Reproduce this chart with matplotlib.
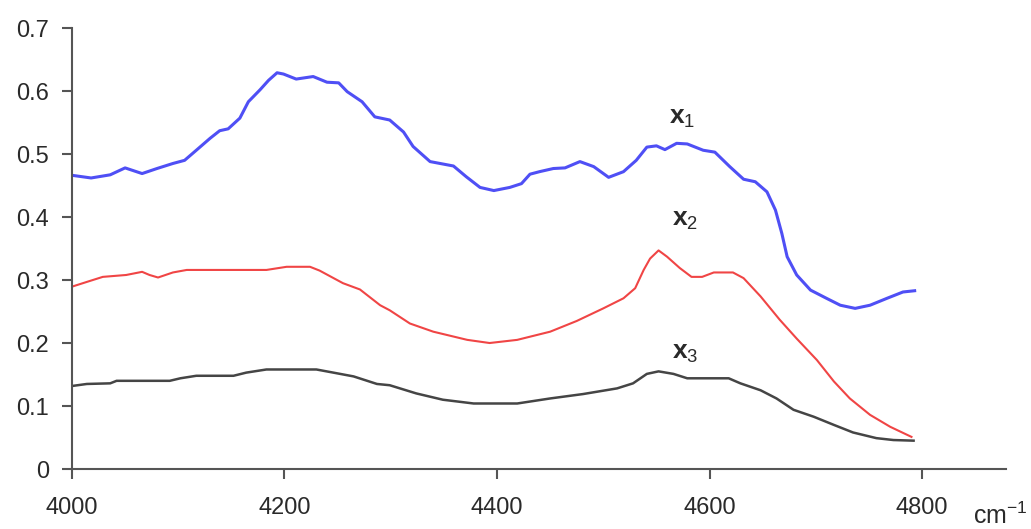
import matplotlib.pyplot as plt

plt.rcParams['font.family'] = ['Liberation Sans', 'DejaVu Sans']
plt.rcParams['mathtext.fontset'] = 'custom'
plt.rcParams['mathtext.rm'] = 'Liberation Sans'
plt.rcParams['mathtext.bf'] = 'Liberation Sans:bold'

# wavenumber (cm-1) and absorbance
x1_wn = [4001, 4018, 4036, 4050, 4066, 4080, 4095, 4106, 4117, 4130, 4139, 4147,
         4158, 4166, 4177, 4185, 4193, 4199, 4211, 4227, 4240, 4251, 4259, 4273,
         4285, 4299, 4312, 4321, 4337, 4359, 4371, 4384, 4397, 4412, 4423, 4431,
         4440, 4453, 4464, 4478, 4491, 4505, 4519, 4531, 4541, 4550, 4558, 4569,
         4579, 4594, 4605, 4619, 4632, 4643, 4654, 4662, 4668, 4673, 4682, 4695,
         4710, 4723, 4737, 4751, 4767, 4782, 4793]
x1_abs = [0.466, 0.462, 0.467, 0.478, 0.469, 0.477, 0.485, 0.490, 0.506, 0.525, 0.537, 0.540,
          0.557, 0.583, 0.602, 0.617, 0.629, 0.627, 0.619, 0.623, 0.614, 0.613, 0.599, 0.583,
          0.559, 0.554, 0.535, 0.512, 0.488, 0.481, 0.464, 0.447, 0.442, 0.447, 0.453, 0.468,
          0.472, 0.477, 0.478, 0.488, 0.480, 0.463, 0.472, 0.490, 0.511, 0.513, 0.507, 0.517,
          0.516, 0.506, 0.503, 0.480, 0.460, 0.456, 0.440, 0.411, 0.374, 0.337, 0.308, 0.284,
          0.271, 0.260, 0.255, 0.260, 0.271, 0.281, 0.283]

x2_wn = [4001, 4014, 4029, 4051, 4066, 4073, 4081, 4095, 4108, 4183, 4202, 4224,
         4233, 4255, 4271, 4290, 4299, 4318, 4340, 4372, 4393, 4419, 4450, 4475,
         4500, 4519, 4530, 4538, 4544, 4552, 4560, 4572, 4583, 4593, 4604, 4622,
         4632, 4648, 4666, 4682, 4701, 4717, 4732, 4751, 4770, 4790]
x2_abs = [0.290, 0.297, 0.305, 0.308, 0.313, 0.308, 0.304, 0.312, 0.316, 0.316, 0.321, 0.321,
          0.315, 0.295, 0.285, 0.260, 0.252, 0.231, 0.218, 0.205, 0.200, 0.205, 0.218, 0.235,
          0.255, 0.271, 0.287, 0.316, 0.334, 0.347, 0.337, 0.319, 0.305, 0.305, 0.312, 0.312,
          0.303, 0.274, 0.237, 0.207, 0.173, 0.139, 0.112, 0.086, 0.067, 0.051]

x3_wn = [4001, 4014, 4036, 4042, 4092, 4102, 4117, 4152, 4164, 4183, 4230, 4246,
         4265, 4287, 4299, 4324, 4349, 4378, 4419, 4450, 4481, 4513, 4528, 4541,
         4552, 4566, 4579, 4618, 4629, 4648, 4663, 4679, 4698, 4717, 4735, 4757,
         4773, 4792]
x3_abs = [0.132, 0.135, 0.136, 0.140, 0.140, 0.144, 0.148, 0.148, 0.153, 0.158, 0.158, 0.153,
          0.147, 0.135, 0.133, 0.120, 0.110, 0.104, 0.104, 0.112, 0.119, 0.128, 0.136, 0.151,
          0.155, 0.151, 0.144, 0.144, 0.136, 0.125, 0.112, 0.094, 0.083, 0.070, 0.058, 0.049,
          0.046, 0.045]

xticks = [4000, 4200, 4400, 4600, 4800]
yticks = [0, 0.1, 0.2, 0.3, 0.4, 0.5, 0.6, 0.7]
ytick_labels = ['0', '0.1', '0.2', '0.3', '0.4', '0.5', '0.6', '0.7']

fig = plt.figure(figsize=(10.31, 5.29), dpi=100)
ax = fig.add_axes([0.0698, 0.1134, 0.906, 0.8336])

ax.plot(x1_wn, x1_abs, color='#4f4ff5', lw=2.2)
ax.plot(x2_wn, x2_abs, color='#f04545', lw=1.5)
ax.plot(x3_wn, x3_abs, color='#454545', lw=1.8)

ax.text(4574, 0.557, r'$\mathbf{x}_1$', fontsize=19, ha='center', va='center', color='#2a2a2a')
ax.text(4577, 0.395, r'$\mathbf{x}_2$', fontsize=19, ha='center', va='center', color='#2a2a2a')
ax.text(4577, 0.184, r'$\mathbf{x}_3$', fontsize=19, ha='center', va='center', color='#2a2a2a')

ax.set_xlim(4000, 4879)
ax.set_ylim(0, 0.7)
ax.set_xticks(xticks)
ax.set_yticks(yticks)
ax.set_yticklabels(ytick_labels)

for s in ['top', 'right']:
    ax.spines[s].set_visible(False)
for s in ['left', 'bottom']:
    ax.spines[s].set_color('#555555')
    ax.spines[s].set_linewidth(1.5)
ax.tick_params(axis='both', colors='#555555', width=1.5, length=7.5,
               labelsize=17, labelcolor='#2a2a2a')
ax.tick_params(axis='x', pad=13)
ax.tick_params(axis='y', pad=9)

fig.text(0.944, 0.01, r'cm$^{-1}$', fontsize=18, color='#2a2a2a', ha='left', va='baseline')

fig.savefig('out.png', dpi=100)
